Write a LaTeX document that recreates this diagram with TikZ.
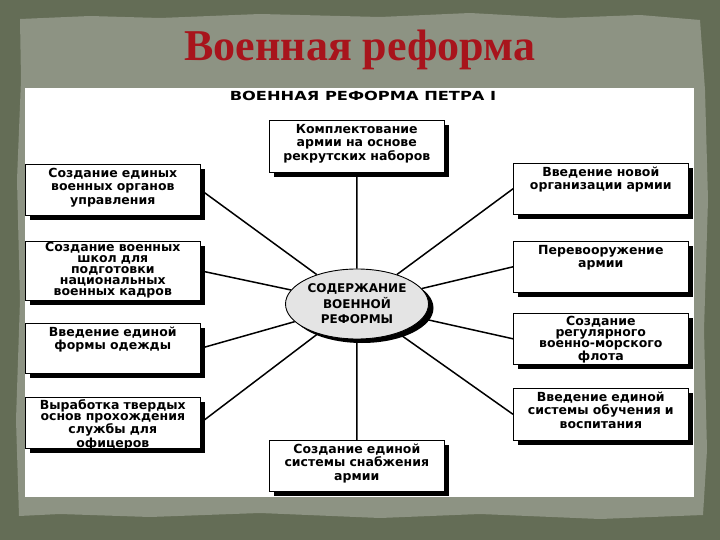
\documentclass[tikz,border=0pt]{standalone}
\usepackage{fontspec}
\setmainfont{Liberation Serif}
\setsansfont{DejaVu Sans}
\newfontfamily\widesans{DejaVu Sans}[FakeStretch=1.3]
\usetikzlibrary{shapes.geometric,shadows}
\definecolor{frame}{HTML}{646D56}
\definecolor{paper}{HTML}{8D9383}
\definecolor{titlered}{HTML}{A8141C}
\definecolor{ovalgray}{HTML}{E4E4E4}
\begin{document}
\begin{tikzpicture}[x=1pt,y=-1pt,
    box/.style={draw, fill=white, line width=0.6pt, anchor=north west,
      text width=167pt, inner xsep=4pt, inner ysep=3pt, align=center,
      text height=10pt, text depth=35pt,
      font=\sffamily\bfseries\fontsize{12.5}{13.5}\selectfont,
      drop shadow={shadow xshift=5pt, shadow yshift=-5pt, fill=black, opacity=1}},
    tight/.style={inner ysep=2pt, text height=10pt, text depth=37pt,
      font=\sffamily\bfseries\fontsize{12.5}{11}\selectfont},
    hub/.style={ellipse, draw, fill=ovalgray, line width=0.9pt,
      minimum width=143pt, minimum height=70pt, inner sep=0pt, align=center,
      font=\sffamily\bfseries\fontsize{12}{15.5}\selectfont,
      drop shadow={shadow xshift=5pt, shadow yshift=-4pt, fill=black, opacity=1}},
    spoke/.style={line width=1.5pt}]
  \useasboundingbox (0,0) rectangle (720,540);
  % background
  \fill[frame] (0,0) rectangle (720,540);
  \fill[paper] (20,19) -- (90,16) -- (160,18) -- (260,14) -- (380,17) -- (470,13)
    -- (560,18) -- (640,15) -- (700,20) -- (705,90) -- (708,200) -- (704,330)
    -- (707,450) -- (703,515) -- (600,519) -- (480,514) -- (380,518) -- (260,513)
    -- (150,517) -- (60,514) -- (19,516) -- (16,420) -- (20,300) -- (17,180)
    -- (21,80) -- cycle;
  \fill[white] (25,88) rectangle (694,497);
  \node[font=\bfseries\fontsize{44}{44}\selectfont, text=titlered] (title) at (360,50) {Военная реформа};
  \node[font=\widesans\bfseries\fontsize{12.5}{12.5}\selectfont] (sub) at (363,96) {ВОЕННАЯ РЕФОРМА ПЕТРА I};
  % centre
  \node[hub] (c) at (357,304) {СОДЕРЖАНИЕ\\ВОЕННОЙ\\РЕФОРМЫ};
  % boxes
  \node[box, text depth=36pt] (t) at (269,120) {Комплектование\\армии на основе\\рекрутских наборов};
  \node[box] (b) at (269,440) {Создание единой\\системы снабжения\\армии};
  \node[box] (l1) at (25,164) {Создание единых\\военных органов\\управления};
  \node[box, tight, inner ysep=1pt, text height=9pt, text depth=48pt] (l2) at (25,241) {Создание военных\\школ для\\подготовки\\национальных\\военных кадров};
  \node[box, text depth=34pt] (l3) at (25,323) {Введение единой\\формы одежды};
  \node[box, tight] (l4) at (25,397) {Выработка твердых\\основ прохождения\\службы для\\офицеров};
  \node[box] (r1) at (513,163) {Введение новой\\организации армии};
  \node[box] (r2) at (513,241) {Перевооружение\\армии};
  \node[box, tight] (r3) at (513,313) {Создание\\регулярного\\военно-морского\\флота};
  \node[box, text depth=36pt] (r4) at (513,388) {Введение единой\\системы обучения и\\воспитания};
  % spokes
  \begin{scope}[spoke]
    \draw (c) -- (t);
    \draw (c) -- (b);
    \draw (c) -- (l1.east);
    \draw (c) -- (l2.east);
    \draw (c) -- (l3.east);
    \draw (c) -- (l4.east);
    \draw (c) -- (r1.west);
    \draw (c) -- (r2.west);
    \draw (c) -- (r3.west);
    \draw (c) -- (r4.west);
  \end{scope}
\end{tikzpicture}
\end{document}
